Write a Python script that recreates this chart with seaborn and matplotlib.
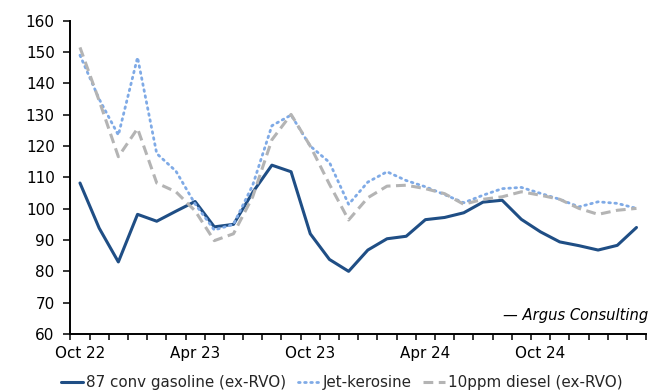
import numpy as np
import pandas as pd
import matplotlib
matplotlib.use("Agg")
import matplotlib.pyplot as plt
import seaborn as sns

# Monthly margins, Oct 2022 - Mar 2025
months = pd.date_range("2022-10-01", periods=30, freq="MS")
month_labels = [m.strftime("%b %y") for m in months]

gasoline = [108.2, 93.8, 83.0, 98.2, 96.0, 99.2, 102.3, 94.2, 95.0, 105.2,
            113.9, 111.8, 92.0, 83.8, 80.0, 86.8, 90.4, 91.2, 96.5, 97.2,
            98.7, 102.1, 102.7, 96.6, 92.6, 89.4, 88.2, 86.8, 88.3, 94.0]
jet = [149.0, 135.0, 123.5, 148.3, 117.6, 112.0, 101.5, 93.2, 95.0, 107.5,
       126.5, 129.9, 120.0, 114.8, 101.4, 108.5, 111.8, 109.0, 107.0, 104.5,
       101.9, 104.3, 106.4, 106.8, 104.9, 103.0, 100.6, 102.2, 101.7, 100.1]
diesel = [151.5, 134.5, 116.6, 125.6, 108.2, 105.4, 99.3, 89.8, 92.0, 103.8,
          122.0, 130.1, 120.0, 107.8, 96.4, 103.5, 107.2, 107.5, 106.4, 104.8,
          101.4, 103.0, 103.8, 105.4, 104.3, 103.0, 100.1, 98.2, 99.5, 100.1]

series_names = ["87 conv gasoline (ex-RVO)", "Jet-kerosine", "10ppm diesel (ex-RVO)"]
series_values = [gasoline, jet, diesel]
colors = ["#1F4E85", "#7FAAE6", "#B4B4B4"]

sns.set_theme(style="white")
plt.rcParams["font.family"] = ["DejaVu Sans"]

fig, ax = plt.subplots(figsize=(6.64, 3.92), dpi=100)
fig.subplots_adjust(left=0.106, right=0.973, top=0.947, bottom=0.148)

x = np.arange(len(months))
styles = [
    dict(linestyle="-", linewidth=2.2),
    dict(linestyle=(0, (0.6, 1.6)), linewidth=2.0, dash_capstyle="round"),
    dict(linestyle=(0, (3.2, 1.8)), linewidth=2.2),
]
for name, vals, col, st in zip(series_names, series_values, colors, styles):
    df = pd.DataFrame({"idx": x, "value": vals})
    sns.lineplot(data=df, x="idx", y="value", ax=ax, color=col, label=name, **st)

ax.set_xlim(-0.5, len(months) - 0.5)
ax.set_ylim(60, 160)
ax.set_yticks(np.arange(60, 161, 10))
ax.set_xticks(x[::6])
ax.set_xticklabels([month_labels[i] for i in x[::6]])
ax.set_xticks(np.arange(-0.5, len(months), 1.0), minor=True)
ax.tick_params(axis="x", which="major", length=0, pad=9, labelsize=10.9, colors="black")
ax.tick_params(axis="x", which="minor", length=4.5, width=1.1, color="black", direction="out", bottom=True)
ax.tick_params(axis="y", length=4.8, width=1.1, color="black", direction="out", left=True,
               labelsize=11, pad=6.5, colors="black")
ax.set_xlabel("")
ax.set_ylabel("")

for side in ["top", "right"]:
    ax.spines[side].set_visible(False)
for side in ["left", "bottom"]:
    ax.spines[side].set_color("black")
    ax.spines[side].set_linewidth(1.4)

ax.text(1.004, 0.058, "\u2014 Argus Consulting", transform=ax.transAxes, ha="right", va="center",
        fontsize=10.6, fontstyle="italic", color="black")

leg = ax.legend(loc="upper center", bbox_to_anchor=(0.472, -0.112), ncol=3, frameon=False,
                fontsize=10.9, handlelength=1.45, handletextpad=0.2, columnspacing=0.75,
                borderaxespad=0)

fig.savefig("out.png", dpi=100)
